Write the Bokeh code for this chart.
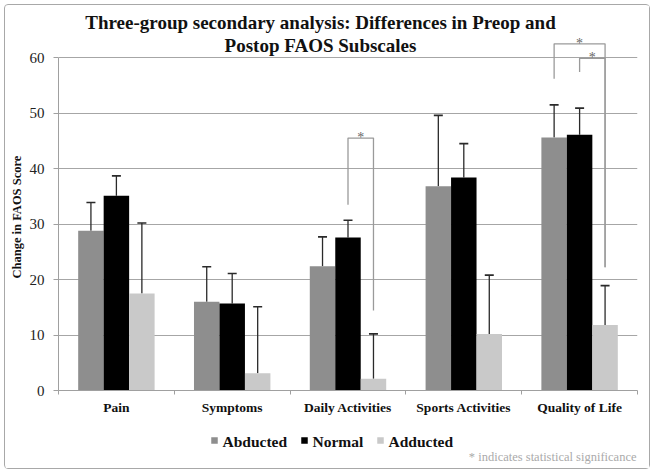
from bokeh.plotting import figure
from bokeh.layouts import column
from bokeh.models import (Range1d, FixedTicker, Label, Whisker, TeeHead,
                          ColumnDataSource, Title)
from bokeh.embed import file_html
from bokeh.resources import INLINE

# ---------------- data ----------------
categories = ["Pain", "Symptoms", "Daily Activities", "Sports Activities", "Quality of Life"]
groups = ["Abducted", "Normal", "Adducted"]
abducted = [28.8, 16.0, 22.4, 36.8, 45.6]
abducted_err = [5.1, 6.3, 5.3, 12.8, 5.9]
normal = [35.1, 15.7, 27.6, 38.4, 46.1]
normal_err = [3.6, 5.4, 3.1, 6.1, 4.8]
adducted = [17.5, 3.1, 2.1, 10.2, 11.8]
adducted_err = [12.7, 12.0, 8.1, 10.6, 7.1]
y_ticks = [0, 10, 20, 30, 40, 50, 60]
# significance brackets: (category index, group a, group b)
significance = [(2, 1, 2), (4, 0, 2), (4, 1, 2)]

# ---------------- styles / layout ----------------
colors = ["#8e8e8e", "#000000", "#c9c9c9"]
offsets = [-0.22, 0.0, 0.22]
bar_w = 0.22
FONT = "Liberation Serif"
ORIGIN = 5                           # page px of the layout's content corner
FRAME_L, FRAME_T, FRAME_B, FRAME_W = 58, 8, 390, 579   # page px
W1, H1 = 644, 419
H2 = 44
PX_UNIT = 5.547
Y_END = (FRAME_B - FRAME_T) / PX_UNIT

def dx(px):
    return (px - FRAME_L) / (FRAME_W / 5)
def dy(py):
    return (FRAME_B - py) / PX_UNIT

p = figure(width=W1, height=H1, output_backend="svg", toolbar_location=None,
           x_range=Range1d(0, 5), y_range=Range1d(0, Y_END),
           min_border_left=FRAME_L - ORIGIN,
           min_border_right=W1 - (FRAME_L - ORIGIN) - FRAME_W,
           min_border_top=FRAME_T - ORIGIN,
           min_border_bottom=H1 - (FRAME_B - ORIGIN))
p.outline_line_color = None
p.border_fill_color = "white"

# grid
p.xgrid.visible = False
p.ygrid.ticker = FixedTicker(ticks=y_ticks)
p.ygrid.grid_line_color = "#a6a6a6"
p.ygrid.grid_line_width = 1

# y axis
ya = p.yaxis[0]
ya.ticker = FixedTicker(ticks=y_ticks)
ya.bounds = (0, 60)
ya.axis_line_color = "#a0a0a0"
ya.major_tick_line_color = "#a0a0a0"
ya.major_tick_in = 0
ya.major_tick_out = 5
ya.minor_tick_line_color = None
ya.major_label_standoff = 9
ya.major_label_text_font = FONT
ya.major_label_text_font_size = "15px"
ya.major_label_text_color = "#222222"

# y axis title (left panel, aligned to the 0-60 span)
p.add_layout(Title(text="Change in FAOS Score", align="left", offset=112,
                   text_font=FONT, text_font_style="bold", text_font_size="12.5px",
                   text_color="#111111", standoff=5), "left")

# x axis
centers = [i + 0.5 for i in range(len(categories))]
xa = p.xaxis[0]
xa.ticker = FixedTicker(ticks=centers, minor_ticks=list(range(len(categories) + 1)))
xa.major_label_overrides = {c: name for c, name in zip(centers, categories)}
xa.axis_line_color = "#a0a0a0"
xa.major_tick_out = 0
xa.major_tick_in = 0
xa.major_tick_line_color = None
xa.minor_tick_line_color = "#a0a0a0"
xa.minor_tick_out = 4
xa.minor_tick_in = 0
xa.major_label_standoff = 5
xa.major_label_text_font = FONT
xa.major_label_text_font_style = "bold"
xa.major_label_text_font_size = "13.5px"
xa.major_label_text_color = "#111111"

# bars + error bars
series = [(abducted, abducted_err), (normal, normal_err), (adducted, adducted_err)]
for g, (vals, errs) in enumerate(series):
    xs = [c + offsets[g] for c in centers]
    src = ColumnDataSource(dict(x=xs, top=vals, up=[v + e for v, e in zip(vals, errs)]))
    p.vbar(x="x", top="top", bottom=0, width=bar_w, source=src,
           fill_color=colors[g], line_color=None)
    p.add_layout(Whisker(base="x", lower="top", upper="up", source=src,
                         dimension="height", line_color="#2a2a2a", line_width=1.3,
                         upper_head=TeeHead(size=9, line_color="#2a2a2a", line_width=1.6),
                         lower_head=None))

# significance brackets (layout: top level and leg gaps in units)
bracket_top = [45.5, 62.5, 59.9]
leg_gap_a = [2.8, 4.7, 6.5]
leg_gap_b = [4.2, 3.3, 3.3]
tops_all = [[v + e for v, e in zip(vals, errs)] for vals, errs in series]
for k, (ci, ga, gb) in enumerate(significance):
    xa_ = centers[ci] + offsets[ga]
    xb_ = centers[ci] + offsets[gb]
    ya_ = tops_all[ga][ci] + leg_gap_a[k]
    yb_ = tops_all[gb][ci] + leg_gap_b[k]
    t = bracket_top[k]
    p.line([xa_, xa_, xb_, xb_], [ya_, t, t, yb_], line_color="#9a9a9a", line_width=1.3)
    p.add_layout(Label(x=(xa_ + xb_) / 2, y=t + 0.1, text="*", text_align="center",
                       text_baseline="alphabetic", text_font=FONT,
                       text_font_size="14px", text_color="#666666"))

# chart title (inside the frame's top band)
title_lines = ["Three-group secondary analysis: Differences in Preop and",
               "Postop FAOS Subscales"]
title_py = [21.5, 45]
for line, py in zip(title_lines, title_py):
    p.add_layout(Label(x=dx(320), y=dy(py), text=line, text_align="center",
                       text_baseline="middle", text_font=FONT, text_font_style="bold",
                       text_font_size="19px", text_color="#111111"))

# ---------------- legend strip (frame aligned with the chart frame) ----------------
y_top = ORIGIN + H1                  # page y of strip top
q = figure(width=W1, height=H2, output_backend="svg", toolbar_location=None,
           x_range=Range1d(FRAME_L, FRAME_L + FRAME_W), y_range=Range1d(y_top + H2, y_top),
           x_axis_type=None, y_axis_type=None, min_border=0)
q.outline_line_color = None
q.grid.visible = False
leg_text_px = [222, 312, 388]
leg_py = 441
q.scatter(x=[t - 8 for t in leg_text_px], y=[leg_py - 1] * 3, marker="square",
          size=6.5, fill_color=colors, line_color=None)
for g, name in enumerate(groups):
    q.add_layout(Label(x=leg_text_px[g], y=leg_py, text=name, text_align="left",
                       text_baseline="middle", text_font=FONT, text_font_style="bold",
                       text_font_size="15.5px", text_color="#111111"))
q.add_layout(Label(x=636, y=456, text="* indicates statistical significance",
                   text_align="right", text_baseline="middle", text_font=FONT,
                   text_font_size="12.5px", text_color="#aaaaaa"))

layout = column(p, q, spacing=0, margin=4)
layout.styles = {"border": "1px solid #a8a8a8", "border-radius": "4px"}

open("out.html", "w").write(file_html(layout, INLINE))
